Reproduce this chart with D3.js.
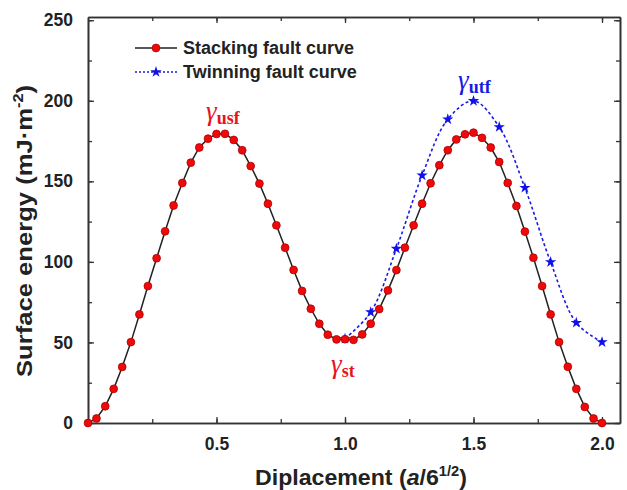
<!DOCTYPE html>
<html>
<head>
<meta charset="utf-8">
<script src="https://cdn.jsdelivr.net/npm/d3@7"></script>
<style>
  body { margin: 0; background: #fff; }
</style>
</head>
<body>
<div id="chart"></div>
<script>
// stacking fault curve, points every 1/30 of a/6^1/2
const sfX = [0, 0.033, 0.067, 0.1, 0.133, 0.167, 0.2, 0.233, 0.267, 0.3,
  0.333, 0.367, 0.4, 0.433, 0.467, 0.5, 0.533, 0.567, 0.6, 0.633,
  0.667, 0.7, 0.733, 0.767, 0.8, 0.833, 0.867, 0.9, 0.933, 0.967,
  1.0, 1.033, 1.067, 1.1, 1.133, 1.167, 1.2, 1.233, 1.267, 1.3,
  1.333, 1.367, 1.4, 1.433, 1.467, 1.5, 1.533, 1.567, 1.6, 1.633,
  1.667, 1.7, 1.733, 1.767, 1.8, 1.833, 1.867, 1.9, 1.933, 1.967, 2.0]
const sfY = [0, 2.8, 10.4, 21.2, 34.8, 50.2, 67.4, 85, 102.3, 119,
  135, 149, 161.6, 171, 176.5, 179.4, 179.5, 175.7, 169.3, 159.5,
  148.6, 136.1, 122.7, 108.8, 95, 82, 70.9, 61.6, 54.8, 51.9,
  52, 51.6, 55, 61.6, 70.7, 82.3, 94.9, 108.8, 122.7, 136.1,
  148.8, 160, 169.3, 176, 179.2, 180.2, 177, 171, 162, 149,
  134.7, 118.8, 102.6, 85, 67.4, 50.2, 34.9, 21.2, 10, 2.8, 0]

// twinning fault curve
const tfX = [1.0, 1.1, 1.2, 1.3, 1.4, 1.5, 1.6, 1.7, 1.8, 1.9, 2.0]
const tfY = [52.3, 68.8, 108.2, 153.7, 188.5, 199.9, 183.7, 146, 99.9, 62.2, 50.2]

const xTicks = [0.5, 1.0, 1.5, 2.0]
const xMinor = [0.25, 0.5, 0.75, 1.0, 1.25, 1.5, 1.75, 2.0]
const yTicks = [0, 50, 100, 150, 200, 250]
const yMinor = [0, 25, 50, 75, 100, 125, 150, 175, 200, 225, 250]

const legendLabels = ["Stacking fault curve", "Twinning fault curve"]

const sf = sfX.map((d, i) => ({x: d, y: sfY[i]}))
const tf = tfX.map((d, i) => ({x: d, y: tfY[i]}))

const width = 627
const height = 490
const margin = {top: 17, right: 7, bottom: 67, left: 88}

const svg = d3.select("#chart")
    .append("svg")
    .attr("width", width)
    .attr("height", height)

const x = d3.scaleLinear()
    .domain([0, 2.07])
    .range([margin.left, width - margin.right])

const y = d3.scaleLinear()
    .domain([0, 252])
    .range([height - margin.bottom, margin.top])

const frameColor = "#333"
const fontTick = "Liberation Sans, Arial, sans-serif"

// minor ticks on all four sides, pointing inward
const layer_axes = svg.append("g")

layer_axes.append("g")
    .attr("transform", `translate(0,${y(0)})`)
    .call(d3.axisBottom(x).tickValues(xMinor).tickSize(-4).tickFormat("").tickSizeOuter(0))
layer_axes.append("g")
    .attr("transform", `translate(0,${y(252)})`)
    .call(d3.axisTop(x).tickValues(xMinor).tickSize(-4).tickFormat("").tickSizeOuter(0))
layer_axes.append("g")
    .attr("transform", `translate(${x(0)},0)`)
    .call(d3.axisLeft(y).tickValues(yMinor).tickSize(-4).tickFormat("").tickSizeOuter(0))
layer_axes.append("g")
    .attr("transform", `translate(${x(2.07)},0)`)
    .call(d3.axisRight(y).tickValues(yMinor).tickSize(-4).tickFormat("").tickSizeOuter(0))

// major ticks with labels
layer_axes.append("g")
    .attr("class", "lab")
    .attr("transform", `translate(0,${y(0)})`)
    .call(d3.axisBottom(x).tickValues(xTicks).tickSize(-6).tickPadding(15).tickFormat(d3.format(".1f")).tickSizeOuter(0))
layer_axes.append("g")
    .attr("class", "lab")
    .attr("transform", `translate(${x(0)},0)`)
    .call(d3.axisLeft(y).tickValues(yTicks).tickSize(-6).tickPadding(15).tickFormat(d3.format("d")).tickSizeOuter(0))
layer_axes.append("g")
    .attr("transform", `translate(0,${y(252)})`)
    .call(d3.axisTop(x).tickValues(xTicks).tickSize(-6).tickFormat("").tickSizeOuter(0))
layer_axes.append("g")
    .attr("transform", `translate(${x(2.07)},0)`)
    .call(d3.axisRight(y).tickValues(yTicks).tickSize(-6).tickFormat("").tickSizeOuter(0))

layer_axes.selectAll(".domain").attr("stroke", frameColor).attr("stroke-width", 1.6)
layer_axes.selectAll(".tick line").attr("stroke", frameColor).attr("stroke-width", 1.3)
layer_axes.selectAll(".lab text")
    .style("font-family", fontTick)
    .style("font-size", "17.5px")
    .style("font-weight", "bold")
    .attr("fill", "#222")

// twinning curve (dotted spline)
const layer_tf = svg.append("g")
layer_tf.append("path")
    .datum(tf)
    .attr("fill", "none")
    .attr("stroke", "#1a1ae6")
    .attr("stroke-width", 1.6)
    .attr("stroke-dasharray", "3,2.5")
    .attr("d", d3.line().x(d => x(d.x)).y(d => y(d.y)).curve(d3.curveCatmullRom.alpha(0.5)))

// stacking curve
const layer_sf = svg.append("g")
layer_sf.append("path")
    .datum(sf)
    .attr("fill", "none")
    .attr("stroke", "#222")
    .attr("stroke-width", 1.5)
    .attr("d", d3.line().x(d => x(d.x)).y(d => y(d.y)))
layer_sf.selectAll("circle")
    .data(sf)
    .join("circle")
    .attr("cx", d => x(d.x))
    .attr("cy", d => y(d.y))
    .attr("r", 3.9)
    .attr("fill", "#ee0a0a")
    .attr("stroke", "#b00000")
    .attr("stroke-width", 0.8)

const star = d3.symbol().type(d3.symbolStar).size(40)
layer_tf.selectAll(".star")
    .data(tf)
    .join("path")
    .attr("class", "star")
    .attr("transform", d => `translate(${x(d.x)},${y(d.y)})`)
    .attr("d", star)
    .attr("fill", "#1010e8")

// legend
const layer_legend = svg.append("g")
const ly = [48, 72]
layer_legend.append("line")
    .attr("x1", 135).attr("x2", 177).attr("y1", ly[0]).attr("y2", ly[0])
    .attr("stroke", "#222").attr("stroke-width", 1.5)
layer_legend.append("circle")
    .attr("cx", 156).attr("cy", ly[0]).attr("r", 3.9)
    .attr("fill", "#ee0a0a").attr("stroke", "#b00000").attr("stroke-width", 0.8)
layer_legend.append("line")
    .attr("x1", 135).attr("x2", 177).attr("y1", ly[1]).attr("y2", ly[1])
    .attr("stroke", "#1a1ae6").attr("stroke-width", 1.4).attr("stroke-dasharray", "2,2")
layer_legend.append("path")
    .attr("transform", `translate(156,${ly[1]})`)
    .attr("d", star)
    .attr("fill", "#1010e8")
layer_legend.selectAll("text")
    .data(legendLabels)
    .join("text")
    .attr("x", 183)
    .attr("y", (d, i) => ly[i] + 6)
    .style("font-family", fontTick)
    .style("font-size", "18px")
    .style("font-weight", "bold")
    .attr("fill", "#222")
    .text(d => d)

// gamma annotations
function gammaLabel(px, py, sub, color) {
    const t = svg.append("text")
        .attr("x", px)
        .attr("y", py)
        .attr("fill", color)
        .style("font-family", "Liberation Serif, Times New Roman, serif")
    t.append("tspan")
        .style("font-style", "italic")
        .style("font-size", "27px")
        .text("γ")
    t.append("tspan")
        .attr("dy", 4)
        .style("font-weight", "bold")
        .style("font-size", "18px")
        .text(sub)
}
gammaLabel(206, 120, "usf", "#e8141c")
gammaLabel(458, 89, "utf", "#1a1ae0")
gammaLabel(331, 373, "st", "#e8141c")

// axis titles
const layer_titles = svg.append("g")
layer_titles.append("text")
    .attr("transform", `translate(32,231) rotate(-90)`)
    .attr("text-anchor", "middle")
    .attr("textLength", 292)
    .attr("lengthAdjust", "spacingAndGlyphs")
    .style("font-family", fontTick)
    .style("font-size", "22px")
    .style("font-weight", "bold")
    .attr("fill", "#222")
    .call(t => {
        t.append("tspan").text("Surface energy (mJ·m")
        t.append("tspan").attr("dy", -9).style("font-size", "14px").text("-2")
        t.append("tspan").attr("dy", 9).text(")")
    })

layer_titles.append("text")
    .attr("x", 361)
    .attr("y", 485)
    .attr("text-anchor", "middle")
    .attr("textLength", 212)
    .attr("lengthAdjust", "spacingAndGlyphs")
    .style("font-family", fontTick)
    .style("font-size", "22px")
    .style("font-weight", "bold")
    .attr("fill", "#222")
    .call(t => {
        t.append("tspan").text("Diplacement (")
        t.append("tspan").style("font-style", "italic").text("a")
        t.append("tspan").text("/6")
        t.append("tspan").attr("dy", -9).style("font-size", "14px").text("1/2")
        t.append("tspan").attr("dy", 9).text(")")
    })
</script>
</body>
</html>
